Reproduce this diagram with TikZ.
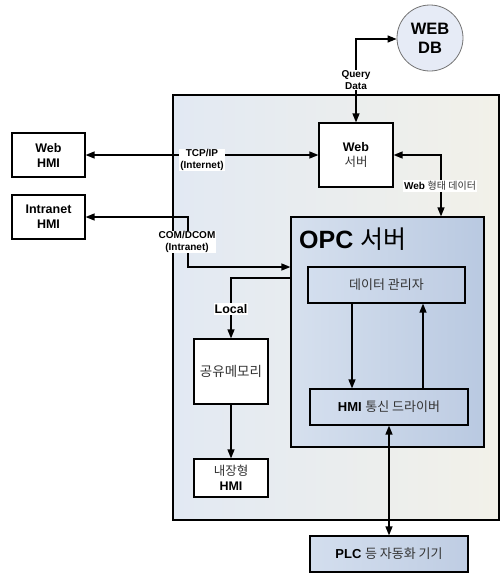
\documentclass[tikz,border=0pt]{standalone}
\usepackage{fontspec}
\setmainfont{Liberation Sans}
\newfontfamily\kr{Noto Sans CJK KR}
\usetikzlibrary{arrows.meta}
\definecolor{contL}{HTML}{E2E9F3}
\definecolor{contR}{HTML}{F2F1E9}
\definecolor{opcL}{HTML}{D6E0EE}
\definecolor{opcR}{HTML}{B9C9E1}
\definecolor{subL}{HTML}{D3DEEE}
\definecolor{subR}{HTML}{BFCDE3}
\definecolor{dbfill}{HTML}{E6EBF6}
\definecolor{ktext}{HTML}{333333}
\begin{document}
\begin{tikzpicture}[x=1pt,y=-1pt,
  tip/.style={-{Triangle[length=9pt,width=7pt]}},
  dtip/.style={{Triangle[length=9pt,width=7pt]}-{Triangle[length=9pt,width=7pt]}},
  conn/.style={line width=1.3pt},
  wbox/.style={draw, line width=1.2pt, fill=white, inner sep=0pt, align=center,
    font=\bfseries\fontsize{12.5}{15}\selectfont},
  bbox/.style={draw, line width=1.2pt, left color=subL, right color=subR, inner sep=0pt, align=center,
    font=\fontsize{13}{15}\selectfont},
  lbl/.style={fill=white, inner sep=1pt, align=center, font=\bfseries\fontsize{10}{11.5}\selectfont},
]
\useasboundingbox (0,0) rectangle (501,573);

% container
\node[draw, line width=1.1pt, left color=contL, right color=contR, minimum width=326pt, minimum height=425pt, inner sep=0pt] (sys) at (336,307.5) {};

% WEB DB
\node[circle, draw=black!55, line width=0.8pt, fill=dbfill, minimum size=66pt, inner sep=0pt, align=center,
  font=\bfseries\fontsize{16.5}{19}\selectfont] (db) at (430,38) {WEB\\DB};

% boxes
\node[wbox, minimum width=74pt, minimum height=64pt] (ws) at (356,155) {Web\\{\mdseries\kr\color{ktext}서버}};
\node[wbox, minimum width=73pt, minimum height=44pt] (whmi) at (48.5,155) {Web\\HMI};
\node[wbox, minimum width=73pt, minimum height=44pt] (ihmi) at (48.5,217) {Intranet\\HMI};

\node[draw, line width=1.2pt, left color=opcL, right color=opcR, minimum width=193pt, minimum height=230pt, inner sep=0pt] (opc) at (387.5,332) {};
\node[anchor=west, inner sep=0pt, font=\fontsize{25}{27}\selectfont] (opct) at (299,239) {\textbf{OPC} {\kr 서버}};

\node[bbox, minimum width=157pt, minimum height=36pt] (dm) at (386.5,285) {\kr\color{ktext}데이터 관리자};
\node[bbox, minimum width=158pt, minimum height=36pt] (drv) at (389,407) {\textbf{HMI} {\kr\color{ktext}통신 드라이버}};
\node[bbox, minimum width=158pt, minimum height=36pt] (plc) at (389,554) {\textbf{PLC} {\kr\color{ktext}등 자동화 기기}};

\node[wbox, minimum width=74pt, minimum height=65pt, font=\fontsize{13.5}{15}\selectfont] (sm) at (231,371.5) {\kr\color{ktext}공유메모리};
\node[wbox, minimum width=74pt, minimum height=38pt] (nh) at (231,478) {{\mdseries\kr\color{ktext}내장형}\\HMI};

% helper coordinates
\coordinate (qd) at (356,39);
\coordinate (cd1) at (188,217);
\coordinate (cd2) at (188,267);
\coordinate (wf) at (441,155);
\coordinate (lc) at (231,278);
\coordinate (c1) at (352,0);
\coordinate (c2) at (423,0);

% connectors
\draw[conn, dtip] (ws.north) -- (qd) -- (db.west |- qd);
\draw[conn, dtip] (whmi.east) -- (ws.west);
\draw[conn, dtip] (ihmi.east) -- (cd1) -- (cd2) -- (opc.west |- cd2);
\draw[conn, dtip] (ws.east) -- (wf) -- (wf |- opc.north);
\draw[conn, tip] (opc.west |- lc) -- (lc) -- (sm.north);
\draw[conn, tip] (sm.south) -- (nh.north);
\draw[conn, tip] (dm.south -| c1) -- (drv.north -| c1);
\draw[conn, tip] (drv.north -| c2) -- (dm.south -| c2);
\draw[conn, dtip] (drv.south) -- (plc.north);

% labels
\node[lbl] (lq) at (356,80) {Query\\Data};
\node[lbl] (lt) at (202,160) {TCP/IP\\(Internet)};
\node[lbl] (lcd) at (187,242) {COM/DCOM\\(Intranet)};
\node[lbl] (lw) at (440,186) {Web {\mdseries\kr\color{ktext}형태 데이터}};
\node[lbl, font=\bfseries\fontsize{12.5}{14}\selectfont] (ll) at (231,309) {Local};
\end{tikzpicture}
\end{document}
